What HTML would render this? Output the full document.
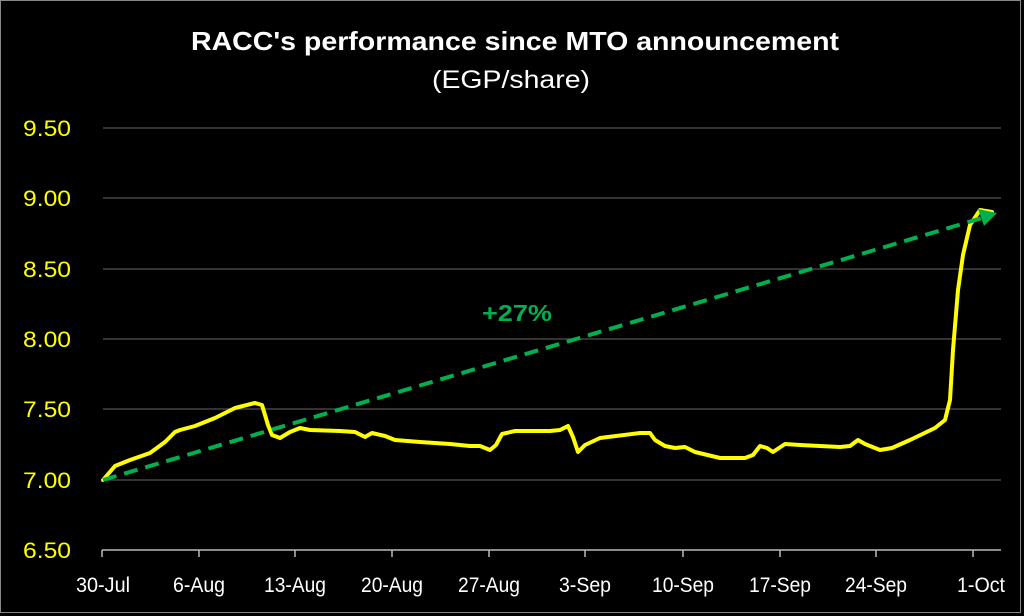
<!DOCTYPE html>
<html><head><meta charset="utf-8"><style>
html,body{margin:0;padding:0;background:#000;}
svg{display:block;font-family:"Liberation Sans",sans-serif;}
</style></head><body>
<svg width="1024" height="616" viewBox="0 0 1024 616">
<rect x="0" y="0" width="1024" height="616" fill="#000"/>
<rect x="0.5" y="0.5" width="1020" height="612" fill="none" stroke="#888" stroke-width="1"/>
<text x="515" y="50" fill="#fff" font-size="26" font-weight="bold" text-anchor="middle" textLength="648" lengthAdjust="spacingAndGlyphs">RACC's performance since MTO announcement</text>
<text x="511" y="88" fill="#fff" font-size="25" text-anchor="middle" textLength="158" lengthAdjust="spacingAndGlyphs">(EGP/share)</text>
<g stroke="#444" stroke-width="1.5">
<line x1="103" y1="128" x2="1001" y2="128"/>
<line x1="103" y1="198" x2="1001" y2="198"/>
<line x1="103" y1="269" x2="1001" y2="269"/>
<line x1="103" y1="339" x2="1001" y2="339"/>
<line x1="103" y1="409" x2="1001" y2="409"/>
<line x1="103" y1="480" x2="1001" y2="480"/>
</g>
<line x1="102" y1="550" x2="1001" y2="550" stroke="#bbb" stroke-width="1.5"/>
<g stroke="#bbb" stroke-width="1.5">
<line x1="102" y1="550" x2="102" y2="557"/><line x1="199" y1="550" x2="199" y2="557"/>
<line x1="295" y1="550" x2="295" y2="557"/><line x1="392" y1="550" x2="392" y2="557"/>
<line x1="489" y1="550" x2="489" y2="557"/><line x1="585" y1="550" x2="585" y2="557"/>
<line x1="683" y1="550" x2="683" y2="557"/><line x1="780" y1="550" x2="780" y2="557"/>
<line x1="876" y1="550" x2="876" y2="557"/><line x1="973" y1="550" x2="973" y2="557"/>
</g>
<g fill="#ffff00" font-size="22" text-anchor="end">
<text x="71" y="136" textLength="48" lengthAdjust="spacingAndGlyphs">9.50</text><text x="71" y="206" textLength="48" lengthAdjust="spacingAndGlyphs">9.00</text>
<text x="71" y="277" textLength="48" lengthAdjust="spacingAndGlyphs">8.50</text><text x="71" y="347" textLength="48" lengthAdjust="spacingAndGlyphs">8.00</text>
<text x="71" y="417" textLength="48" lengthAdjust="spacingAndGlyphs">7.50</text><text x="71" y="488" textLength="48" lengthAdjust="spacingAndGlyphs">7.00</text>
<text x="71" y="558" textLength="48" lengthAdjust="spacingAndGlyphs">6.50</text>
</g>
<g fill="#fff" font-size="21" text-anchor="middle">
<text x="103" y="592" textLength="54" lengthAdjust="spacingAndGlyphs">30-Jul</text><text x="199" y="592" textLength="52" lengthAdjust="spacingAndGlyphs">6-Aug</text>
<text x="295" y="592" textLength="62" lengthAdjust="spacingAndGlyphs">13-Aug</text><text x="392" y="592" textLength="62" lengthAdjust="spacingAndGlyphs">20-Aug</text>
<text x="489" y="592" textLength="62" lengthAdjust="spacingAndGlyphs">27-Aug</text><text x="585" y="592" textLength="52" lengthAdjust="spacingAndGlyphs">3-Sep</text>
<text x="683" y="592" textLength="62" lengthAdjust="spacingAndGlyphs">10-Sep</text><text x="780" y="592" textLength="62" lengthAdjust="spacingAndGlyphs">17-Sep</text>
<text x="876" y="592" textLength="62" lengthAdjust="spacingAndGlyphs">24-Sep</text><text x="981" y="592" textLength="48" lengthAdjust="spacingAndGlyphs">1-Oct</text>
</g>
<polyline fill="none" stroke="#ffff00" stroke-width="4" stroke-linejoin="round" stroke-linecap="round"
points="103,480 115,466 130,460 150,453 165,442 175,432 180,430 195,426 215,418 235,408 255,403 262,405 268,425 272,435 280,438 290,432 300,428 310,430 340,431 355,432 365,437 372,433 385,436 395,440 420,442 450,444 470,446 480,446 490,450 496,445 502,434 515,431 550,431 560,430 568,426 573,437 578,452 585,445 600,438 640,433 650,433 655,440 665,446 675,448 685,447 695,452 720,458 745,458 753,455 760,446 767,448 773,452 785,444 800,445 840,447 850,446 858,440 865,444 880,450 892,448 910,440 935,428 945,420 950,400 953,350 958,290 963,255 970,225 980,210 992,212"/>
<line x1="103" y1="480" x2="982" y2="218" stroke="#00b050" stroke-width="4" stroke-dasharray="14,8"/>
<polygon points="997,213 978,209 984,226" fill="#00b050"/>
<text x="517" y="321" fill="#00b050" font-size="23" font-weight="bold" text-anchor="middle" textLength="70" lengthAdjust="spacingAndGlyphs">+27%</text>
</svg>
</body></html>
